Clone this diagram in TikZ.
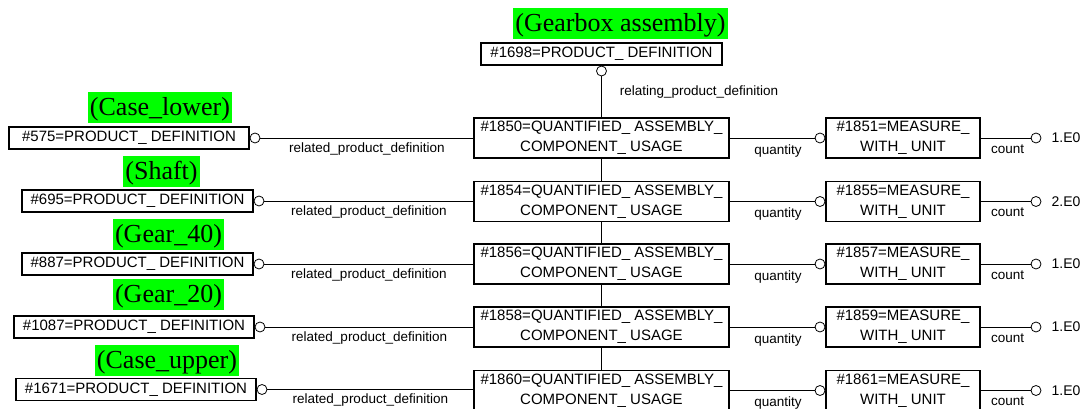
\documentclass[tikz,border=0pt]{standalone}
\usepackage{fontspec}
\setmainfont{Liberation Serif}
\setsansfont{Liberation Sans}
\usetikzlibrary{positioning}
\definecolor{taggreen}{RGB}{0,255,0}

\begin{document}
\begin{tikzpicture}[x=1pt, y=-1pt]
  \tikzstyle{entity}=[draw, line width=1.2pt, inner sep=0pt, align=center, font=\sffamily\fontsize{15}{20}\selectfont]
  \tikzstyle{pdbox}=[entity, minimum height=22pt]
  \tikzstyle{qbox}=[entity, minimum width=255pt, minimum height=40pt]
  \tikzstyle{mbox}=[entity, minimum width=154pt, minimum height=40pt]
  \tikzstyle{ring}=[circle, draw, fill=white, line width=0.8pt, minimum size=10pt, inner sep=0pt]
  \tikzstyle{tag}=[fill=taggreen, inner xsep=2pt, inner ysep=1pt, text height=23pt, text depth=6pt, font=\fontsize{26}{30}\selectfont]
  \tikzstyle{role}=[inner sep=2pt, font=\sffamily\fontsize{13.5}{15}\selectfont]
  \tikzstyle{value}=[inner sep=2pt, font=\sffamily\fontsize{14}{16}\selectfont]
  \tikzstyle{link}=[line width=0.8pt]

  \useasboundingbox (0,0) rectangle (1088,409);

  % the assembly itself
  \node[tag] (T-top) at (620.5,23.5) {(Gearbox assembly)};
  \node[pdbox, minimum width=241pt] (PD-top) at (601.5,54) {\#1698=PRODUCT\_ DEFINITION};
  \node[ring, anchor=north] (PC-top) at (PD-top.south) {};

  % component products
  \foreach \i / \pd / \l / \r / \y in {1/575/9/249/138, 2/695/22/253/201, 3/887/22/253/264, 4/1087/14/254/327, 5/1671/16/256/389.5}
  {
    \node[pdbox, minimum width={(\r-\l)*1pt}] (PD-\i) at ({(\l+\r)/2},\y) {\#\pd=PRODUCT\_ DEFINITION};
    \node[ring, anchor=west] (PC-\i) at (PD-\i.east) {};
  }

  \foreach \i / \tx / \ty / \tagtext in {1/160/107.5/Case\_lower, 2/161.5/171.5/Shaft, 3/168.5/234.5/Gear\_40, 4/168.5/294/Gear\_20, 5/167/360/Case\_upper}
    \node[tag] (T-\i) at (\tx,\ty) {(\tagtext)};

  % usages and their quantities
  \foreach \i / \q / \m / \v / \y in {1/1850/1851/1.E0/138, 2/1854/1855/2.E0/201.5, 3/1856/1857/1.E0/264, 4/1858/1859/1.E0/327, 5/1860/1861/1.E0/390.5}
  {
    \node[qbox] (Q-\i) at (601.5,\y) {\#\q=QUANTIFIED\_ ASSEMBLY\_\\COMPONENT\_ USAGE};
    \node[mbox] (M-\i) at (903,\y) {\#\m=MEASURE\_\\WITH\_ UNIT};
    \node[ring, anchor=east] (MC-\i) at (M-\i.west) {};
    \node[ring] (VC-\i) at (1036,\y) {};
    \node[value, right=8pt of VC-\i] (V-\i) {\v};
  }

  \path[link] (PC-top) edge node[role, pos=0.38, right=16pt] {relating\_product\_definition} (Q-1);

  \foreach \i in {1,...,5}
  {
    \draw[link] (PC-\i) -- (PC-\i -| Q-\i.west) node[role, midway, below, yshift=-2pt] {related\_product\_definition};
    \path[link] (Q-\i) edge node[role, below, xshift=6pt, yshift=-4pt] {quantity} (MC-\i);
    \path[link] (M-\i) edge node[role, below, xshift=2pt, yshift=-4pt] {count} (VC-\i);
  }

  \foreach \i / \j in {1/2,2/3,3/4,4/5}
    \path[link] (Q-\i) edge (Q-\j);
\end{tikzpicture}
\end{document}
